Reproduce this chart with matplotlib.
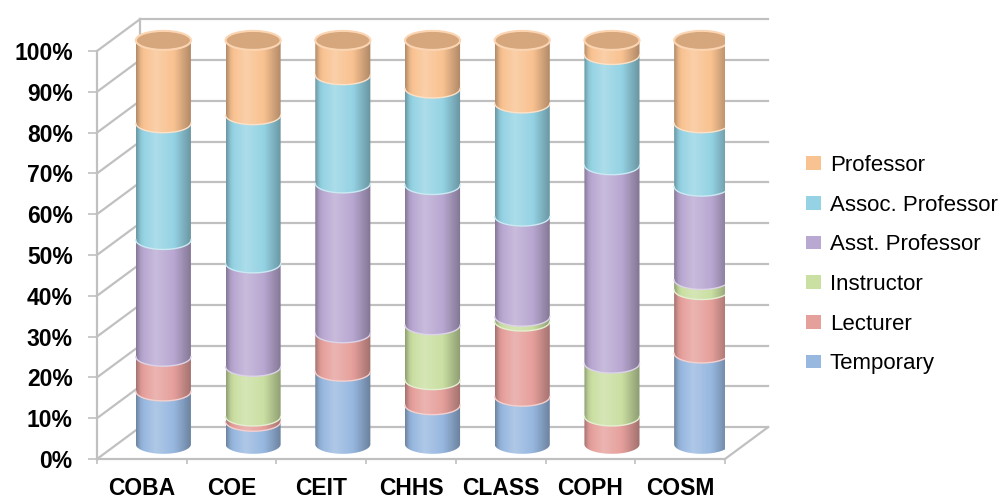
import numpy as np
import matplotlib
matplotlib.use('Agg')
import matplotlib.pyplot as plt
from matplotlib.patches import Polygon, Ellipse, Patch
from matplotlib.colors import to_rgb

plt.rcParams['font.family'] = ['Liberation Sans', 'DejaVu Sans']

colleges = ['COBA', 'COE', 'CEIT', 'CHHS', 'CLASS', 'COPH', 'COSM']
ranks = ['Temporary', 'Lecturer', 'Instructor', 'Asst. Professor', 'Assoc. Professor', 'Professor']

temporary = [13.1, 5.6, 18.0, 9.7, 11.8, 0.0, 22.5]
lecturer = [8.6, 1.3, 9.5, 6.2, 18.6, 6.9, 15.7]
instructor = [0.0, 12.3, 0.0, 13.6, 1.2, 13.1, 2.5]
asst_prof = [28.9, 25.6, 37.1, 34.7, 24.8, 49.1, 23.1]
assoc_prof = [28.9, 36.7, 26.8, 23.9, 28.0, 27.3, 15.7]
professor = [20.5, 18.5, 8.6, 11.9, 15.6, 3.6, 20.5]

colors = ['#98B8E0', '#E6A09C', '#CADFA2', '#B9A8D2', '#95D3E4', '#F9C291']

series = np.array([temporary, lecturer, instructor, asst_prof, assoc_prof, professor])
series = series / series.sum(axis=0) * 100

# fake 3d: depth offset of the back wall, in data units
DX, DY = 0.48, 7.8
RX, RY = 0.307, 2.33
PERSP = 0.99   # bars sit halfway back, so they come out a touch shorter
GRID = '#C0C0C0'


def lighten(c, f):
    c = np.array(to_rgb(c))
    return tuple(c + (1 - c) * f)


def darken(c, f):
    return tuple(np.array(to_rgb(c)) * f)


def gradient(color, n=80):
    t = np.linspace(0, 1, n)
    f = np.interp(t, [0, 0.08, 0.35, 0.7, 1.0], [-0.28, -0.06, 0.22, -0.02, -0.3])
    c = np.array(to_rgb(color))
    f = f[:, None]
    out = np.where(f > 0, c + (1 - c) * f, c * (1 + f))
    return out[None, :, :]


def lower_arc(xc, y, reverse=False):
    th = np.linspace(np.pi, 2 * np.pi, 50)
    if reverse:
        th = th[::-1]
    return np.column_stack([xc + RX * np.cos(th), y + RY * np.sin(th)])


fig = plt.figure(figsize=(10.05, 5.0), dpi=100)
ax = fig.add_axes([97 / 1005, 41 / 500, 628 / 1005, 112 * 4.08 / 500])

# walls and gridlines
ticks = np.arange(0, 101, 10)
for v in ticks:
    ax.plot([DX, 7 + DX], [v + DY, v + DY], color=GRID, lw=1.6, zorder=1, clip_on=False)
    ax.plot([0, DX], [v, v + DY], color=GRID, lw=1.6, zorder=1, clip_on=False)
ax.plot([DX, DX], [DY, 100 + DY], color=GRID, lw=1.6, zorder=1, clip_on=False)
ax.plot([7, 7 + DX], [0, DY], color=GRID, lw=1.6, zorder=1, clip_on=False)

# cylinders
for i in range(len(colleges)):
    xc = i + 0.5 + DX / 2
    base = DY / 2 - 0.3
    bottom = base
    for k in range(len(ranks)):
        h = series[k, i] * PERSP
        if h <= 0.05:
            continue
        top = bottom + h
        verts = np.vstack([lower_arc(xc, bottom), lower_arc(xc, top, reverse=True)])
        poly = Polygon(verts, closed=True, fc='none', ec='none', zorder=3)
        ax.add_patch(poly)
        im = ax.imshow(gradient(colors[k]), extent=[xc - RX, xc + RX, bottom - RY, top + RY],
                       aspect='auto', interpolation='bilinear', zorder=3)
        im.set_clip_path(poly)
        if bottom > base:
            arc = lower_arc(xc, bottom)
            ax.plot(arc[:, 0], arc[:, 1], color=lighten(colors[k], 0.5), lw=1.0, zorder=4)
        bottom = top
    top_color = colors[max(k for k in range(len(ranks)) if series[k, i] > 0.05)]
    ax.add_patch(Ellipse((xc, bottom), 2 * RX, 2 * RY, fc=darken(top_color, 0.86),
                         ec=lighten(top_color, 0.3), lw=1.5, zorder=5))

ax.set_xlim(0, 7)
ax.set_ylim(0, 112)

for s in ['top', 'right']:
    ax.spines[s].set_visible(False)
ax.spines['left'].set_bounds(0, 100)
for s in ['left', 'bottom']:
    ax.spines[s].set_color(GRID)
    ax.spines[s].set_linewidth(1.6)

ax.set_yticks(ticks)
ax.set_yticklabels([f'{v}%' for v in ticks], fontsize=16.5, fontweight='bold')
ax.tick_params(axis='y', length=6.5, width=1.2, color=GRID, pad=11)

ax.set_xticks(np.arange(len(colleges)) + 0.5)
ax.set_xticklabels(colleges, fontsize=16.5, fontweight='bold')
ax.set_xticks(np.arange(0, 8), minor=True)
ax.tick_params(axis='x', which='major', length=0, pad=13)
ax.tick_params(axis='x', which='minor', length=3.5, width=1.2, color=GRID)

handles = [Patch(fc=colors[k], ec='none', label=ranks[k]) for k in range(len(ranks))][::-1]
fig.legend(handles=handles, loc='upper left', bbox_to_anchor=(806 / 1005, 1 - 155 / 500),
           frameon=False, fontsize=16, handlelength=0.67, handleheight=0.57,
           handletextpad=0.4, labelspacing=0.84, borderpad=0, borderaxespad=0)

fig.savefig('out.png', dpi=100)
